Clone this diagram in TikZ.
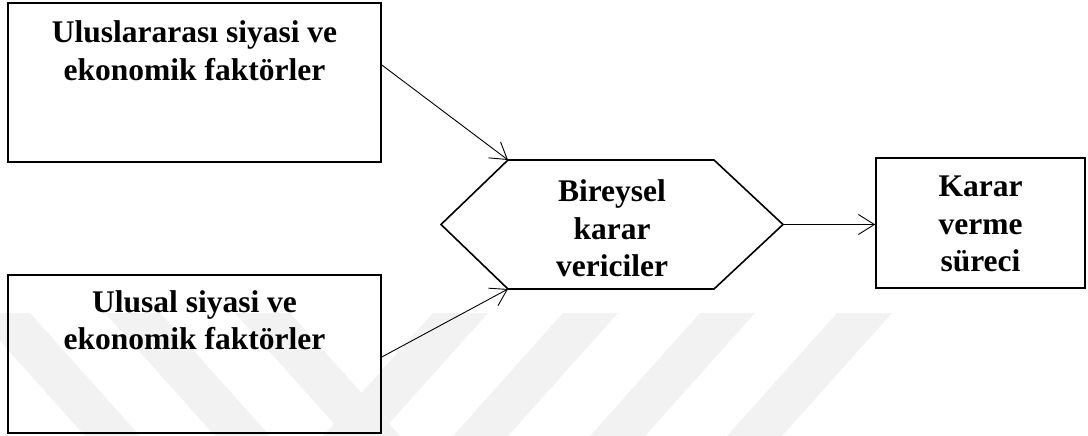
\documentclass[tikz,border=0pt]{standalone}
\usepackage{fontspec}
\setmainfont{Liberation Serif}
\usetikzlibrary{arrows.meta}
\begin{document}
\begin{tikzpicture}[x=1pt,y=-1pt,
  box/.style={draw, line width=1.6pt, inner sep=0pt},
  lbl/.style={font=\bfseries\fontsize{31.5}{37.5}\selectfont, align=center, inner sep=0pt},
  conn/.style={line width=0.9pt, -{Straight Barb[length=16pt,width=20pt,line width=0.9pt]}},
  wm/.style={fill=black!5, draw=none}]
\useasboundingbox (0,0) rectangle (1088,436);
% faint watermark stripes
\foreach \a in {433,563,700,837}
  \fill[wm] (\a,313) -- (\a+55,313) -- (\a-55,436) -- (\a-110,436) -- cycle;
\foreach \a in {-25,105,235}
  \fill[wm] (\a,313) -- (\a+55,313) -- (\a+165,436) -- (\a+110,436) -- cycle;
% boxes
\node[box, minimum width=373pt, minimum height=159pt] (b1) at (194.5,82.5) {};
\node[box, minimum width=373pt, minimum height=158pt] (b2) at (194.5,354) {};
\node[box, minimum width=209pt, minimum height=130pt] (b3) at (980.5,223) {};
\node[lbl, anchor=north] (t1) at ([yshift=-18.7pt]b1.north) {Uluslararası siyasi ve\\ekonomik faktörler};
\node[lbl, anchor=north] (t2) at ([yshift=-16pt]b2.north) {Ulusal siyasi ve\\ekonomik faktörler};
\node[lbl] (t3) at ([yshift=-1pt]b3.center) {Karar\\verme\\süreci};
% hexagon
\coordinate (hw) at (441,224.5);
\coordinate (htl) at (508,160);
\coordinate (htr) at (714,160);
\coordinate (he) at (783,224.5);
\coordinate (hbr) at (714,289);
\coordinate (hbl) at (508,289);
\draw[line width=1.6pt] (hw) -- (htl) -- (htr) -- (he) -- (hbr) -- (hbl) -- cycle;
\node[lbl] (hx) at (612,228.5) {Bireysel\\karar\\vericiler};
% connectors
\draw[conn] ([yshift=17.5pt]b1.east) -- (htl);
\draw[conn] ([yshift=-3pt]b2.east) -- (hbl);
\draw[conn] (he) -- (he -| b3.west);
\end{tikzpicture}
\end{document}
